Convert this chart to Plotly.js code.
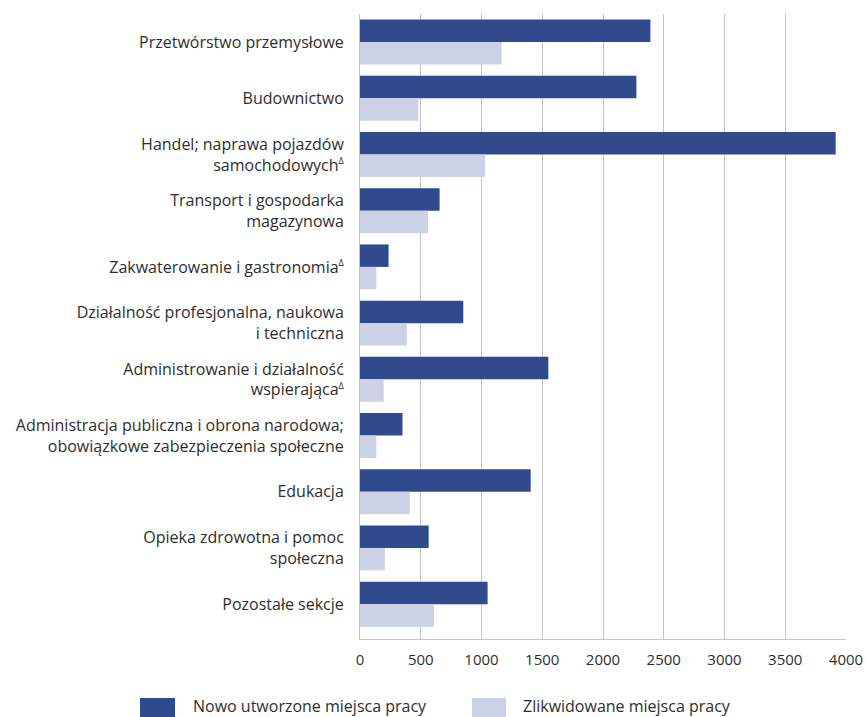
<!DOCTYPE html>
<html>
<head>
<meta charset="utf-8">
<script src="https://cdn.plot.ly/plotly-3.0.1.min.js"></script>
<style>html,body{margin:0;padding:0;background:#fff;}#chart{width:866px;height:717px;}</style>
</head>
<body>
<div id="chart"></div>
<script>
const SUP = "<sup><span style='font-size:9px'>Δ</span></sup>";
const categories = [
  "Przetwórstwo przemysłowe",
  "Budownictwo",
  "Handel; naprawa pojazdów<br>samochodowych" + SUP,
  "Transport i gospodarka<br>magazynowa",
  "Zakwaterowanie i gastronomia" + SUP,
  "Działalność profesjonalna, naukowa<br>i techniczna",
  "Administrowanie i działalność<br>wspierająca" + SUP,
  "Administracja publiczna i obrona narodowa;<br>obowiązkowe zabezpieczenia społeczne",
  "Edukacja",
  "Opieka zdrowotna i pomoc<br>społeczna",
  "Pozostałe sekcje"
];
const newJobs = [2390, 2275, 3915, 655, 235, 850, 1550, 350, 1405, 565, 1050];
const closedJobs = [1165, 480, 1030, 560, 135, 385, 195, 135, 410, 205, 610];
const seriesNames = ["Nowo utworzone miejsca pracy", "Zlikwidowane miejsca pracy"];
const xTicks = [0, 500, 1000, 1500, 2000, 2500, 3000, 3500, 4000];

const darkColor = "#314a8e";
const lightColor = "#cbd2e6";
const textColor = "#2e2e2e";
const gridColor = "#c6c6c6";
const FONT = "Open Sans, Noto Sans, sans-serif";
const FS = 16;

const traces = [
  {type: "bar", orientation: "h", name: seriesNames[0], y: categories, x: newJobs,
   marker: {color: darkColor}, hoverinfo: "x"},
  {type: "bar", orientation: "h", name: seriesNames[1], y: categories, x: closedJobs,
   marker: {color: lightColor}, hoverinfo: "x"}
];

// legend drawn below the plot (pixel helpers)
const W = 866, H = 717, L = 360, R = 20, T = 14, B = 78;
const pw = W - L - R, ph = H - T - B;
const px = v => (v - L) / pw;
const py = v => (H - B - v) / ph;

const legendItems = [
  {x0: 140, x1: 175, tx: 191, color: darkColor, name: seriesNames[0]},
  {x0: 472, x1: 506, tx: 521, color: lightColor, name: seriesNames[1]}
];
const shapes = legendItems.map(it => ({
  type: "rect", xref: "paper", yref: "paper",
  x0: px(it.x0), x1: px(it.x1), y0: py(698), y1: py(717),
  fillcolor: it.color, line: {width: 0}
}));
const annotations = legendItems.map(it => ({
  xref: "paper", yref: "paper", x: px(it.tx), y: py(706),
  xanchor: "left", yanchor: "middle", showarrow: false,
  text: it.name, font: {family: FONT, size: FS, color: textColor}
}));

const layout = {
  width: W, height: H,
  margin: {l: L, r: R, t: T, b: B, pad: 0},
  paper_bgcolor: "#ffffff", plot_bgcolor: "#ffffff",
  barmode: "group", bargap: 0.2, bargroupgap: 0,
  showlegend: false,
  font: {family: FONT, size: FS, color: textColor},
  xaxis: {
    range: [0, 4000], tickvals: xTicks, ticktext: xTicks.map(String),
    showgrid: true, gridcolor: gridColor, gridwidth: 1,
    zeroline: false, showline: true, linecolor: gridColor, linewidth: 1,
    ticks: "", ticklabelstandoff: 7,
    tickfont: {family: FONT, size: 15, color: textColor}, fixedrange: true
  },
  yaxis: {
    type: "category", categoryorder: "array", categoryarray: categories,
    range: [10.62, -0.5],
    showgrid: false, zeroline: false, showline: true, linecolor: gridColor, linewidth: 1,
    ticks: "", ticklabelstandoff: 12,
    tickfont: {family: FONT, size: FS, color: textColor}, fixedrange: true
  },
  shapes: shapes,
  annotations: annotations
};

Plotly.newPlot("chart", traces, layout, {displayModeBar: false, staticPlot: true});
</script>
</body>
</html>
